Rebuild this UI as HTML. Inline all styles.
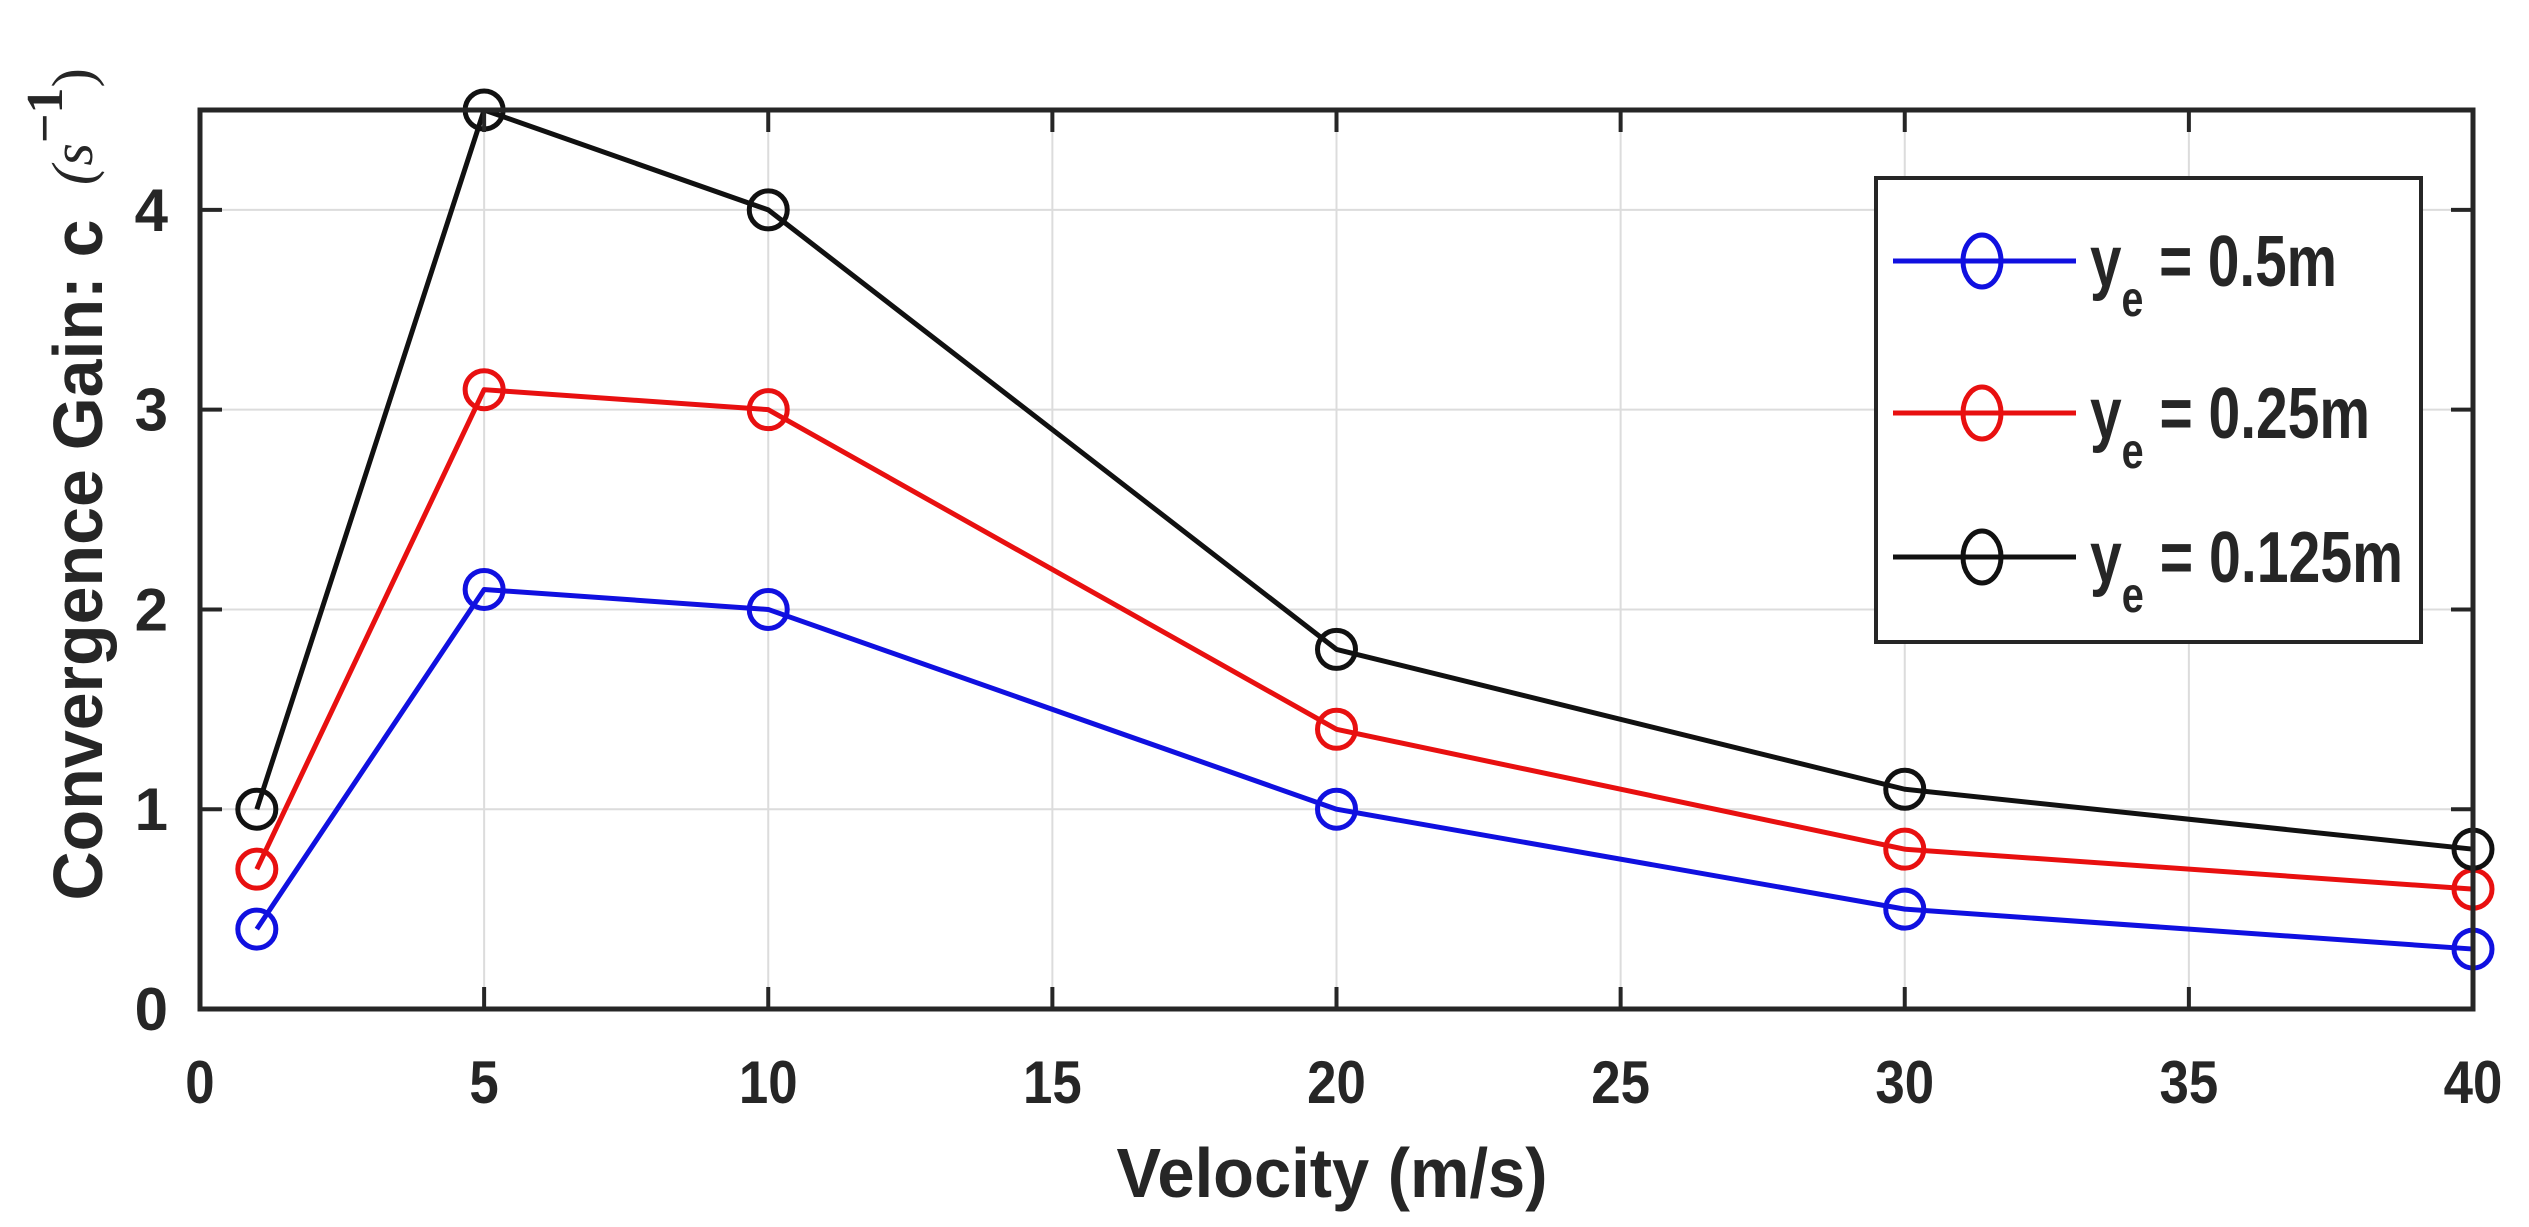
<!DOCTYPE html>
<html><head><meta charset="utf-8"><style>
html,body{margin:0;padding:0;background:#fff;}
svg{display:block;}
text{font-family:"Liberation Sans",sans-serif;font-weight:bold;fill:#262626;}
</style></head><body>
<svg id="chart" width="2529" height="1227" viewBox="0 0 2529 1227" xmlns="http://www.w3.org/2000/svg">
<rect x="0" y="0" width="2529" height="1227" fill="#fff"/>
<g id="grid"></g>
<g id="series"></g>
<g id="axes"></g>
<text x="1332" y="1197" font-size="70" text-anchor="middle" textLength="431" lengthAdjust="spacingAndGlyphs">Velocity (m/s)</text>
<g transform="translate(102,560) rotate(-90)">
<text x="0" y="0" font-size="70" text-anchor="middle" textLength="681" lengthAdjust="spacingAndGlyphs">Convergence Gain: c</text>
<text x="375" y="-10" font-size="58" style="font-family:'Liberation Serif',serif;font-weight:normal;font-style:italic;">(s<tspan dy="-30" font-style="normal" font-weight="bold" font-size="52">−1</tspan><tspan dy="30" font-style="normal">)</tspan></text>
</g>
<g>
<rect x="1876" y="178" width="545" height="464" fill="#fff" stroke="#262626" stroke-width="4"/>
<g id="legend-items"></g>
</g>
</svg>
<script>
const xValues = [1, 5, 10, 20, 30, 40];
const seriesBlue = [0.4, 2.1, 2.0, 1.0, 0.5, 0.3];
const seriesRed = [0.7, 3.1, 3.0, 1.4, 0.8, 0.6];
const seriesBlack = [1.0, 4.5, 4.0, 1.8, 1.1, 0.8];
const seriesNames = ["0.5m", "0.25m", "0.125m"];
const xTicks = [0, 5, 10, 15, 20, 25, 30, 35, 40];
const yTicks = [0, 1, 2, 3, 4];

const NS = "http://www.w3.org/2000/svg";
const L = 200, R = 2473, T = 110, B = 1009;
const xMin = 0, xMax = 40, yMin = 0, yMax = 4.5;
function sx(v){ return L + (v - xMin) / (xMax - xMin) * (R - L); }
function sy(v){ return B - (v - yMin) / (yMax - yMin) * (B - T); }
function mk(tag, attrs, parent){ const e = document.createElementNS(NS, tag); for (const k in attrs) e.setAttribute(k, attrs[k]); parent.appendChild(e); return e; }

const grid = document.getElementById("grid");
const axes = document.getElementById("axes");
xTicks.forEach(t => {
  const g = mk("line", {x1: sx(t), x2: sx(t), y1: T, y2: B, stroke: "#dcdcdc", "stroke-width": 2}, grid);
  
  
  mk("line", {x1: sx(t), x2: sx(t), y1: B, y2: B - 22, stroke: "#262626", "stroke-width": 4}, axes);
  mk("line", {x1: sx(t), x2: sx(t), y1: T, y2: T + 22, stroke: "#262626", "stroke-width": 4}, axes);
  const lab = mk("text", {x: sx(t), y: 1103, "font-size": 60, "text-anchor": "middle", transform: "translate(" + sx(t) + ",0) scale(0.88,1) translate(" + (-sx(t)) + ",0)"}, axes);
  lab.textContent = t;
  
  
});
yTicks.forEach(t => {
  const g = mk("line", {x1: L, x2: R, y1: sy(t), y2: sy(t), stroke: "#dcdcdc", "stroke-width": 2}, grid);
  
  
  mk("line", {x1: L, x2: L + 22, y1: sy(t), y2: sy(t), stroke: "#262626", "stroke-width": 4}, axes);
  mk("line", {x1: R, x2: R - 22, y1: sy(t), y2: sy(t), stroke: "#262626", "stroke-width": 4}, axes);
  const lab = mk("text", {x: 168, y: sy(t) + 21, "font-size": 60, "text-anchor": "end"}, axes);
  lab.textContent = t;
  
  
});
const box = mk("rect", {x: L, y: T, width: R - L, height: B - T, fill: "none", stroke: "#262626", "stroke-width": 5}, axes);



const seriesGroup = document.getElementById("series");
const allSeries = [[seriesBlue, "#1010e0"], [seriesRed, "#e81010"], [seriesBlack, "#111"]];
allSeries.forEach(([vals, col], i) => {
  const pts = vals.map((v, j) => sx(xValues[j]) + "," + sy(v)).join(" ");
  const pl = mk("polyline", {points: pts, fill: "none", stroke: col, "stroke-width": 5, "stroke-linejoin": "round"}, seriesGroup);
  
  
  vals.forEach((v, j) => {
    const c = mk("circle", {cx: sx(xValues[j]), cy: sy(v), r: 19, fill: "none", stroke: col, "stroke-width": 5}, seriesGroup);
    
    
  });
});

const li = document.getElementById("legend-items");
const rowY = [261, 413, 557];
const rowLen = [247, 280, 313];
allSeries.forEach(([vals, col], i) => {
  const y = rowY[i];
  const ln = mk("line", {x1: 1893, x2: 2076, y1: y, y2: y, stroke: col, "stroke-width": 5}, li);
  
  
  mk("ellipse", {cx: 1982, cy: y, rx: 19, ry: 26, fill: "none", stroke: col, "stroke-width": 5}, li);
  const t = mk("text", {x: 2090, y: y + 25, "font-size": 72, textLength: rowLen[i], lengthAdjust: "spacingAndGlyphs"}, li);
  
  
  const a = document.createElementNS(NS, "tspan"); a.textContent = "y"; t.appendChild(a);
  const b = document.createElementNS(NS, "tspan"); b.setAttribute("font-size", "50"); b.setAttribute("dy", "30"); b.textContent = "e"; t.appendChild(b);
  const c = document.createElementNS(NS, "tspan"); c.setAttribute("dy", "-30"); c.textContent = " = " + seriesNames[i]; t.appendChild(c);
});
</script>
</body></html>
